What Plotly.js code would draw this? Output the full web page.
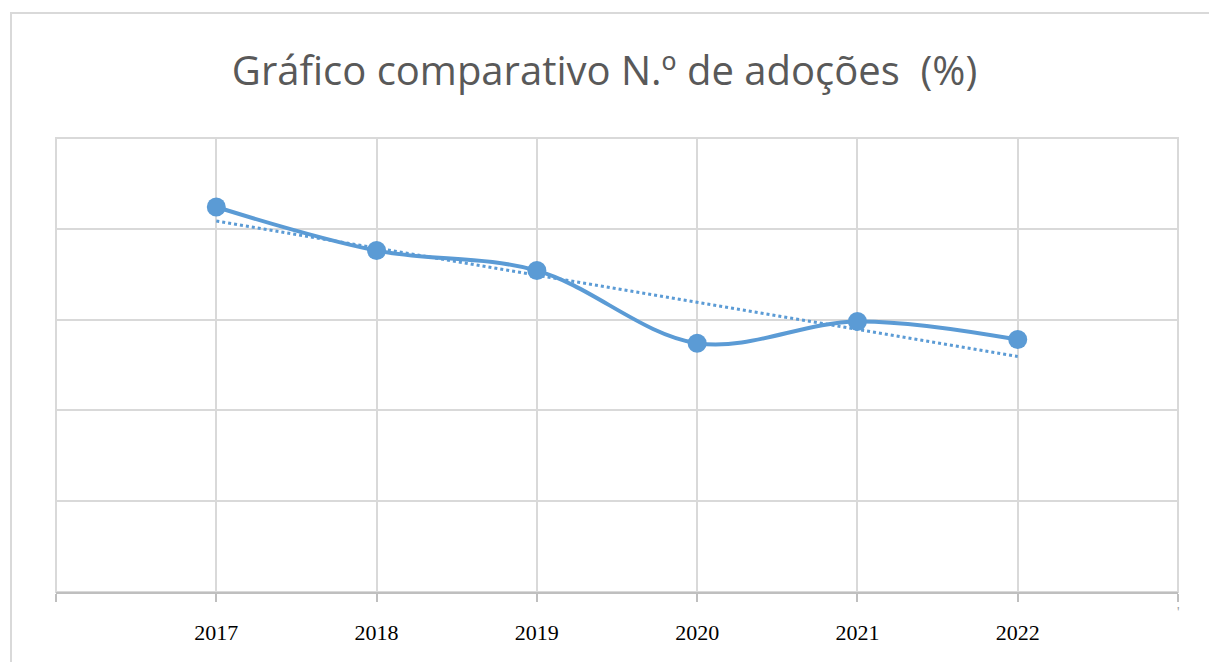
<!DOCTYPE html>
<html>
<head>
<meta charset="utf-8">
<script src="https://cdn.plot.ly/plotly-3.0.1.min.js"></script>
<style>html,body{margin:0;padding:0;background:#fff;}#chart{width:1209px;height:662px;}</style>
</head>
<body>
<div id="chart"></div>
<script>
const years = ['2017', '2018', '2019', '2020', '2021', '2022'];
const adoptions = [21.2, 18.8, 17.7, 13.7, 14.9, 13.9];

const xs = years.map((_, i) => i);
// linear trendline (least squares) from the data
const n = xs.length;
const mx = xs.reduce((a, b) => a + b, 0) / n;
const my = adoptions.reduce((a, b) => a + b, 0) / n;
let sxy = 0, sxx = 0;
for (let i = 0; i < n; i++) { sxy += (xs[i] - mx) * (adoptions[i] - my); sxx += (xs[i] - mx) ** 2; }
const slope = sxy / sxx, icpt = my - slope * mx;
const trend = xs.map(x => icpt + slope * x);

const blue = '#5B9BD5';
const data = [
  { x: xs, y: trend, type: 'scatter', mode: 'lines', line: { color: blue, width: 3, dash: 'dot' }, hoverinfo: 'skip' },
  { x: xs, y: adoptions, type: 'scatter', mode: 'lines+markers', line: { color: blue, width: 4, shape: 'spline', smoothing: 1 }, marker: { color: blue, size: 19 } }
];

const tickvals = [-1, 0, 1, 2, 3, 4, 5, 6];
const ticktext = [''].concat(years).concat(['']);

const layout = {
  width: 1209, height: 662,
  margin: { l: 56, r: 31, t: 138, b: 70 },
  paper_bgcolor: '#fff', plot_bgcolor: '#fff',
  showlegend: false,
  title: { text: 'Gráfico comparativo N.º de adoções  (%)', x: 0.5, xanchor: 'center', y: 0.893, yanchor: 'middle',
    font: { family: 'Open Sans, sans-serif', size: 40, color: '#595959' } },
  xaxis: {
    range: [-1, 6], tickvals: tickvals, ticktext: ticktext,
    showgrid: true, gridcolor: '#d9d9d9', gridwidth: 2,
    showline: true, linecolor: '#bfbfbf', linewidth: 2,
    ticks: 'outside', ticklen: 8, tickwidth: 2, tickcolor: '#bfbfbf',
    zeroline: false,
    tickfont: { family: 'Liberation Serif, Times New Roman, serif', size: 22, color: '#000' },
    ticklabelstandoff: 12
  },
  yaxis: {
    range: [0, 25], dtick: 5, showticklabels: false,
    showgrid: true, gridcolor: '#d9d9d9', gridwidth: 2,
    zeroline: false, showline: false, ticks: ''
  },
  shapes: [
    { type: 'rect', xref: 'paper', yref: 'paper', x0: -0.0401, x1: 1.2, y0: -0.3, y1: 1.2753,
      line: { color: '#d9d9d9', width: 2 }, fillcolor: 'rgba(0,0,0,0)', layer: 'below' },
    { type: 'rect', xref: 'paper', yref: 'paper', x0: 0, x1: 1, y0: 0, y1: 1,
      line: { color: '#d9d9d9', width: 2 }, fillcolor: 'rgba(0,0,0,0)', layer: 'below' }
  ],
  annotations: [
    { text: "'", xref: 'paper', yref: 'paper', x: 1.0036, y: -0.066, showarrow: false,
      font: { family: 'Liberation Serif, serif', size: 14, color: '#999' } }
  ]
};

Plotly.newPlot('chart', data, layout, { displayModeBar: false, staticPlot: true });
</script>
</body>
</html>
